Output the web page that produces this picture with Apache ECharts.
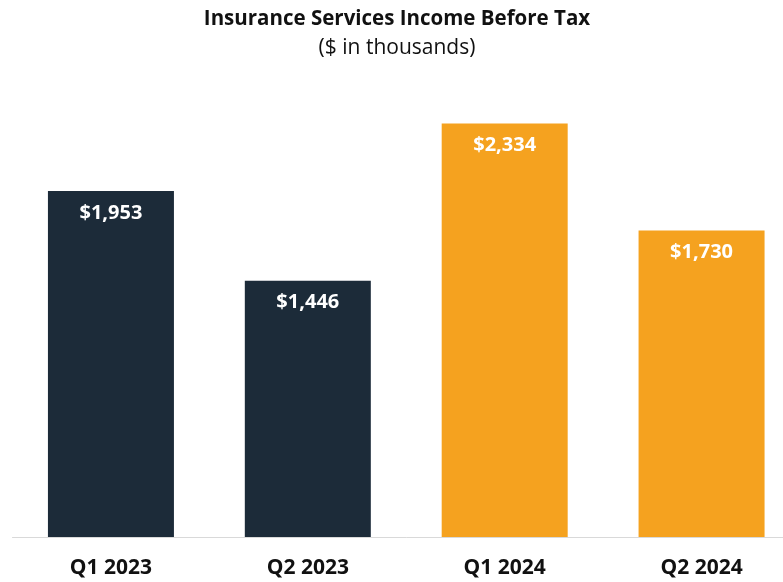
<!DOCTYPE html>
<html>
<head>
<meta charset="utf-8">
<script src="https://cdn.jsdelivr.net/npm/echarts@6/dist/echarts.min.js"></script>
<style>
  html, body { margin: 0; padding: 0; background: #ffffff; overflow: hidden; }
  /* the plot area runs a little past the right edge of the page */
  #chart { width: 800px; height: 582px; }
</style>
</head>
<body>
<div id="chart"></div>
<script>
// Quarterly income before tax, $ in thousands
const quarters = ['Q1 2023', 'Q2 2023', 'Q1 2024', 'Q2 2024'];
const incomeValues = [1953, 1446, 2334, 1730];
const barColors = ['#1c2b39', '#1c2b39', '#f5a21f', '#f5a21f'];

const chart = echarts.init(document.getElementById('chart'));
const fontFamily = '"Open Sans", sans-serif';
const titleCenterX = 392;

chart.setOption({
  animation: false,
  title: [
    {
      text: 'Insurance Services Income Before Tax',
      left: titleCenterX,
      textAlign: 'center',
      top: 4,
      textStyle: { fontFamily, fontSize: 20.5, fontWeight: 'bold', color: '#111111' }
    },
    {
      text: '($ in thousands)',
      left: titleCenterX,
      textAlign: 'center',
      top: 33,
      textStyle: { fontFamily, fontSize: 21, fontWeight: 'normal', color: '#111111' }
    }
  ],
  grid: { left: 12.5, right: 0, top: 94, height: 443 },
  xAxis: {
    type: 'category',
    data: quarters,
    axisLine: { lineStyle: { color: '#d9d9d9', width: 1 } },
    axisTick: { show: false },
    axisLabel: {
      margin: 21,
      fontFamily,
      fontSize: 21,
      fontWeight: 'bold',
      color: '#111111'
    }
  },
  yAxis: {
    type: 'value',
    min: 0,
    max: 2500,
    show: false,
    splitLine: { show: false }
  },
  series: [
    {
      type: 'bar',
      barWidth: 126,
      data: incomeValues.map((v, i) => ({ value: v, itemStyle: { color: barColors[i] } })),
      label: {
        show: true,
        position: 'insideTop',
        distance: 12,
        fontFamily,
        fontSize: 20,
        fontWeight: 'bold',
        color: '#ffffff',
        formatter: p => '$' + p.value.toLocaleString('en-US')
      }
    }
  ]
});
</script>
</body>
</html>
